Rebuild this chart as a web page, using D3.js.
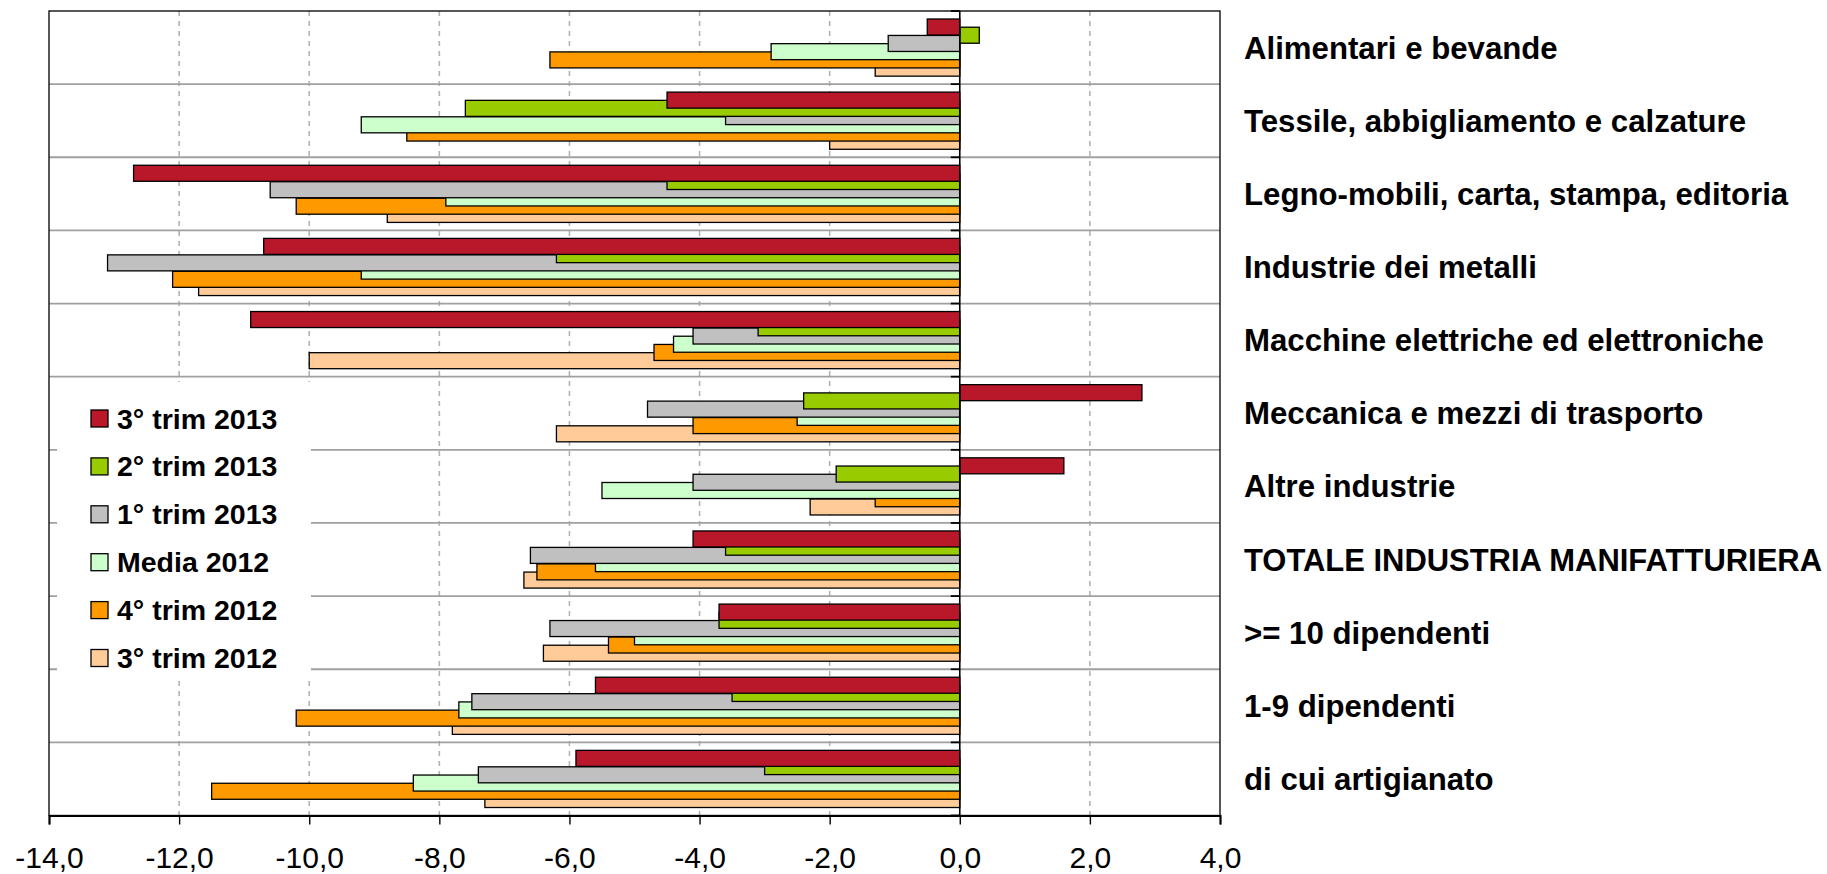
<!DOCTYPE html>
<html>
<head>
<meta charset="utf-8">
<script src="https://cdn.jsdelivr.net/npm/d3@7"></script>
<style>
  html, body { margin: 0; padding: 0; background: #fff; }
  svg { display: block; font-family: "Liberation Sans", Arial, sans-serif; }
</style>
</head>
<body>
<svg id="chart" width="1827" height="874"></svg>
<script>
// Sectors, top to bottom
const categories = [
  "Alimentari e bevande",
  "Tessile, abbigliamento e calzature",
  "Legno-mobili, carta, stampa, editoria",
  "Industrie dei metalli",
  "Macchine elettriche ed elettroniche",
  "Meccanica e mezzi di trasporto",
  "Altre industrie",
  "TOTALE INDUSTRIA MANIFATTURIERA",
  ">= 10 dipendenti",
  "1-9 dipendenti",
  "di cui artigianato"
];

// Quarterly variations (%), one array per period
const trim3_2013 = [-0.5, -4.5, -12.7, -10.7, -10.9, 2.8, 1.6, -4.1, -3.7, -5.6, -5.9];
const trim2_2013 = [0.3, -7.6, -4.5, -6.2, -3.1, -2.4, -1.9, -3.6, -3.7, -3.5, -3.0];
const trim1_2013 = [-1.1, -3.6, -10.6, -13.1, -4.1, -4.8, -4.1, -6.6, -6.3, -7.5, -7.4];
const media2012  = [-2.9, -9.2, -7.9, -9.2, -4.4, -2.5, -5.5, -5.6, -5.0, -7.7, -8.4];
const trim4_2012 = [-6.3, -8.5, -10.2, -12.1, -4.7, -4.1, -1.3, -6.5, -5.4, -10.2, -11.5];
const trim3_2012 = [-1.3, -2.0, -8.8, -11.7, -10.0, -6.2, -2.3, -6.7, -6.4, -7.8, -7.3];

const seriesNames = ["3° trim 2013", "2° trim 2013", "1° trim 2013", "Media 2012", "4° trim 2012", "3° trim 2012"];
const seriesValues = [trim3_2013, trim2_2013, trim1_2013, media2012, trim4_2012, trim3_2012];
const seriesColors = ["#b8182a", "#99cc00", "#c0c0c0", "#ccffcc", "#ff9900", "#ffcc99"];

const xTicks = [-14, -12, -10, -8, -6, -4, -2, 0, 2, 4];

const series = seriesNames.map((name, i) => ({
  name, color: seriesColors[i], index: i,
  values: seriesValues[i].map((v, j) => ({ cat: categories[j], value: v }))
}));

const svg = d3.select("#chart");
const plot = { left: 49, right: 1220, top: 11, bottom: 815.5 };

const x = d3.scaleLinear().domain([-14, 4]).range([plot.left, plot.right]);
const y = d3.scaleBand().domain(categories).range([plot.top, plot.bottom]).paddingInner(0).paddingOuter(0);

// Overlapping bars inside each category band
const band = y.bandwidth();
const barH = band * 0.219;
const step = band * 0.1125;
const clusterOffset = (band - (barH + step * (series.length - 1))) / 2;
const slot = d3.scalePoint().domain(d3.range(series.length))
  .range([clusterOffset, clusterOffset + step * (series.length - 1)]);

const locale = d3.formatLocale({ decimal: ",", thousands: ".", grouping: [3], currency: ["", "€"], minus: "-" });
const fmt = locale.format(".1f");

// Vertical dashed gridlines
svg.append("g")
  .selectAll("line")
  .data(xTicks.filter(t => t !== 0 && t !== -14 && t !== 4))
  .join("line")
  .attr("x1", d => x(d)).attr("x2", d => x(d))
  .attr("y1", plot.top).attr("y2", plot.bottom)
  .attr("stroke", "#b3b3b3")
  .attr("stroke-width", 1.6)
  .attr("stroke-dasharray", "5,5");

// Horizontal gridlines at category boundaries
const boundaries = categories.slice(1).map(c => y(c));
svg.append("g")
  .selectAll("line")
  .data(boundaries)
  .join("line")
  .attr("x1", plot.left).attr("x2", plot.right)
  .attr("y1", d => d).attr("y2", d => d)
  .attr("stroke", "#a0a0a0")
  .attr("stroke-width", 1.8);

// Legend background hides the gridlines underneath
const legend = svg.append("g");
legend.append("rect")
  .attr("x", 57).attr("y", 382).attr("width", 254).attr("height", 299)
  .attr("fill", "#fff");

// Bars: last series drawn first so the first series sits on top
const barsG = svg.append("g");
series.slice().reverse().forEach(s => {
  barsG.append("g")
    .selectAll("rect")
    .data(s.values)
    .join("rect")
    .attr("x", d => x(Math.min(0, d.value)))
    .attr("width", d => Math.abs(x(d.value) - x(0)))
    .attr("y", d => y(d.cat) + slot(s.index))
    .attr("height", barH)
    .attr("fill", s.color)
    .attr("stroke", "#000")
    .attr("stroke-width", 1.3);
});

// Plot frame
svg.append("rect")
  .attr("x", plot.left).attr("y", plot.top)
  .attr("width", plot.right - plot.left).attr("height", plot.bottom - plot.top)
  .attr("fill", "none").attr("stroke", "#111").attr("stroke-width", 1.4);

// Category axis at zero with ticks on the boundaries
const yAxisTicks = [plot.top, ...boundaries, plot.bottom];
svg.append("line")
  .attr("x1", x(0)).attr("x2", x(0)).attr("y1", plot.top).attr("y2", plot.bottom)
  .attr("stroke", "#000").attr("stroke-width", 1.6);
svg.append("g")
  .selectAll("line")
  .data(yAxisTicks)
  .join("line")
  .attr("x1", x(0) - 9).attr("x2", x(0))
  .attr("y1", d => d).attr("y2", d => d)
  .attr("stroke", "#000").attr("stroke-width", 1.8);

// Value axis along the bottom
const xAxis = svg.append("g")
  .attr("transform", `translate(0,${plot.bottom})`)
  .call(d3.axisBottom(x).tickValues(xTicks).tickFormat(fmt).tickSize(9).tickPadding(22));
xAxis.select(".domain").attr("stroke", "#000").attr("stroke-width", 2);
xAxis.selectAll(".tick line").attr("stroke", "#000").attr("stroke-width", 1.4);
xAxis.selectAll(".tick text")
  .attr("font-family", "'Liberation Sans', Arial, sans-serif")
  .attr("font-size", 30)
  .attr("fill", "#000");

// Category labels on the right
const labelX = 1244;
const labels = svg.append("g")
  .selectAll("text")
  .data(categories)
  .join("text")
  .attr("x", labelX)
  .attr("y", d => y(d) + band / 2 + 11)
  .attr("font-size", 31.2)
  .attr("font-weight", "bold")
  .attr("fill", "#000")
  .text(d => d);
labels.each(function () {
  const maxW = 1827 - labelX - 5;
  if (this.getComputedTextLength() > maxW) {
    d3.select(this).attr("textLength", maxW).attr("lengthAdjust", "spacingAndGlyphs");
  }
});

// Legend entries
const legendItems = legend.selectAll("g.item")
  .data(series)
  .join("g")
  .attr("class", "item")
  .attr("transform", (d, i) => `translate(91,${418.5 + i * 47.9})`);
legendItems.append("rect")
  .attr("x", 0).attr("y", -8.5).attr("width", 17).attr("height", 17)
  .attr("fill", d => d.color).attr("stroke", "#000").attr("stroke-width", 1.3);
legendItems.append("text")
  .attr("x", 26).attr("y", 10)
  .attr("font-size", 28.5).attr("font-weight", "bold").attr("fill", "#000")
  .text(d => d.name);
</script>
</body>
</html>
